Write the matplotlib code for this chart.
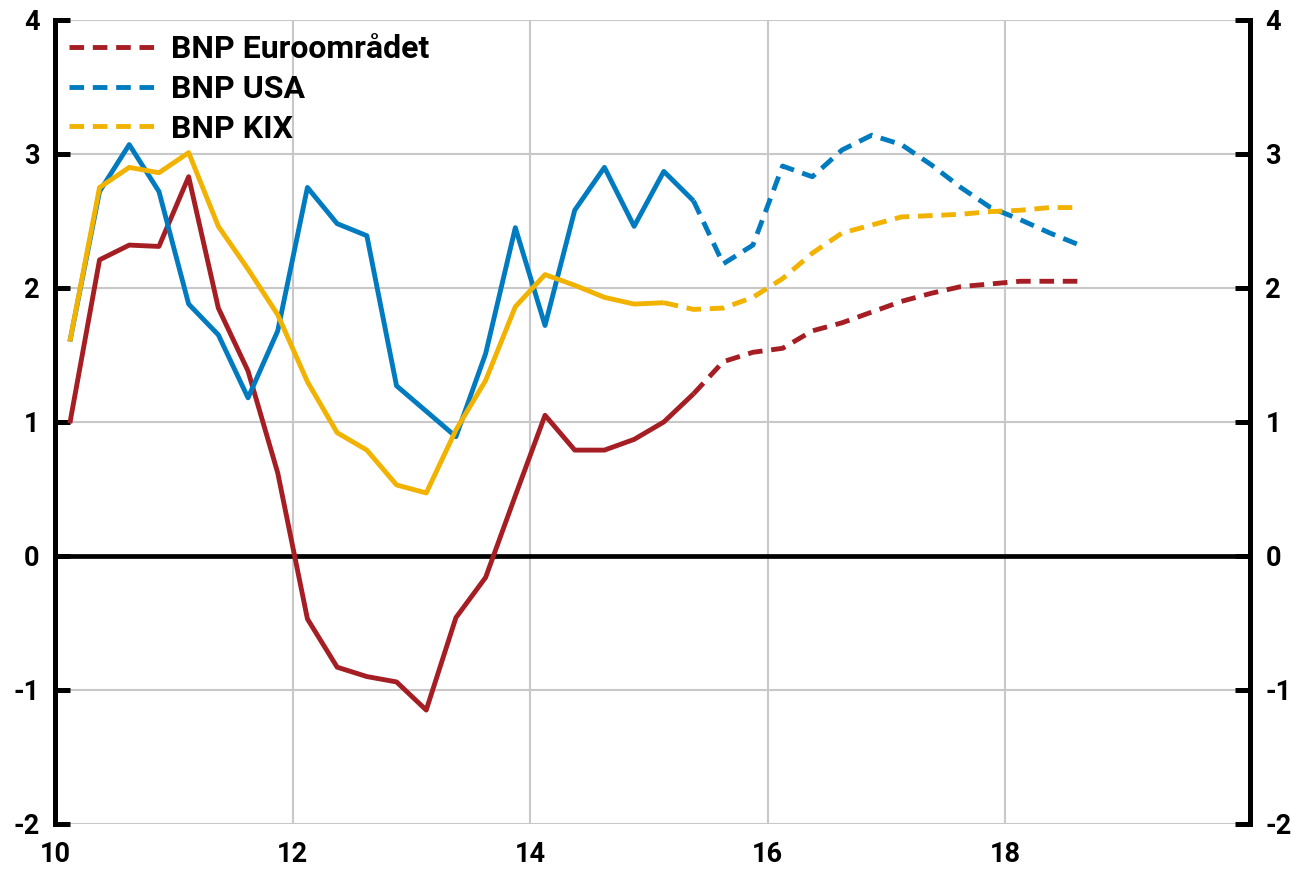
import numpy as np
import matplotlib
matplotlib.use("Agg")
import matplotlib.pyplot as plt
from matplotlib import font_manager as fm

# pick a family that really has a static bold face installed
cands = ['Roboto', 'Lato', 'Liberation Sans', 'DejaVu Sans']
fam = 'DejaVu Sans'
for c in cands:
    try:
        p = fm.findfont(fm.FontProperties(family=c, weight='bold'), fallback_to_default=False)
        if 'bold' in p.lower():
            fam = c
            break
    except Exception:
        pass

plt.rcParams['font.family'] = [fam, 'DejaVu Sans']
plt.rcParams['font.weight'] = 'bold'

# Quarterly observations 2010Q1 .. 2018Q3 (plotted at mid-quarter)
x = np.arange(10.125, 18.7, 0.25)

euro = [0.99, 2.21, 2.32, 2.31, 2.83, 1.85, 1.38, 0.62, -0.47, -0.83, -0.90, -0.94,
        -1.15, -0.46, -0.16, 0.45, 1.05, 0.79, 0.79, 0.87, 1.00, 1.21, 1.45, 1.52,
        1.55, 1.68, 1.74, 1.82, 1.90, 1.96, 2.01, 2.03, 2.05, 2.05, 2.05]
usa = [1.60, 2.72, 3.07, 2.72, 1.88, 1.65, 1.18, 1.68, 2.75, 2.48, 2.39, 1.27,
       1.08, 0.89, 1.51, 2.45, 1.72, 2.58, 2.90, 2.46, 2.87, 2.65, 2.18, 2.32,
       2.91, 2.83, 3.03, 3.14, 3.07, 2.92, 2.75, 2.60, 2.51, 2.41, 2.32]
kix = [1.60, 2.75, 2.90, 2.86, 3.01, 2.46, 2.14, 1.80, 1.30, 0.92, 0.79, 0.53,
       0.47, 0.94, 1.31, 1.86, 2.10, 2.02, 1.93, 1.88, 1.89, 1.84, 1.85, 1.93,
       2.07, 2.26, 2.41, 2.47, 2.53, 2.54, 2.55, 2.57, 2.58, 2.60, 2.60]

# index where forecast (dashed) part begins
split = {'euro': 21, 'usa': 21, 'kix': 20}

series = [
    ('BNP Euroområdet', euro, '#A51E24', split['euro']),
    ('BNP USA', usa, '#007BC0', split['usa']),
    ('BNP KIX', kix, '#F2B200', split['kix']),
]

yticks = [-2, -1, 0, 1, 2, 3, 4]
xticks = [10, 12, 14, 16, 18]

fig = plt.figure(figsize=(12.91, 8.76), dpi=100)
ax = fig.add_axes([0.0426, 0.0594, 0.9257, 0.9178])

lw = 3.5
for label, vals, col, s in series:
    ax.plot(x[:s + 1], vals[:s + 1], color=col, lw=lw, solid_capstyle='butt', zorder=3)
    ax.plot(x[s:], vals[s:], color=col, lw=lw, dashes=(3.0, 1.8), label=label, zorder=3)

ax.set_xlim(10, 20.06)
ax.set_ylim(-2, 4)
ax.set_yticks(yticks)
ax.set_xticks(xticks)
ax.set_xticklabels([str(t) for t in xticks])
ax.set_yticklabels([str(t) for t in yticks])

for xv in [12, 14, 16, 18]:
    ax.axvline(xv, color='#C8C8C8', lw=1.5, zorder=1)
for yv in yticks:
    if yv != 0:
        ax.axhline(yv, color='#C8C8C8', lw=1.5, zorder=1)
ax.axhline(0, color='black', lw=3.4, zorder=2)

for side in ['top', 'bottom']:
    ax.spines[side].set_visible(False)
for side in ['left', 'right']:
    ax.spines[side].set_linewidth(3.6)
    ax.spines[side].set_color('black')

ax.tick_params(axis='y', which='both', direction='in', length=11, width=3.6,
               left=True, right=True, labelleft=True, labelright=True,
               labelsize=19.5, pad=11, colors='black')
ax.tick_params(axis='x', length=0, labelsize=19.5, pad=12, colors='black')
for lab in ax.get_xticklabels() + ax.get_yticklabels():
    lab.set_fontweight('bold')

leg = ax.legend(loc='upper left', frameon=False, fontsize=23, handlelength=2.75,
                handletextpad=0.42, labelspacing=0.3, borderaxespad=0.05,
                borderpad=0.4, bbox_to_anchor=(0.0, 1.0))
for t in leg.get_texts():
    t.set_fontweight('bold')

fig.savefig('out.png', dpi=100)
